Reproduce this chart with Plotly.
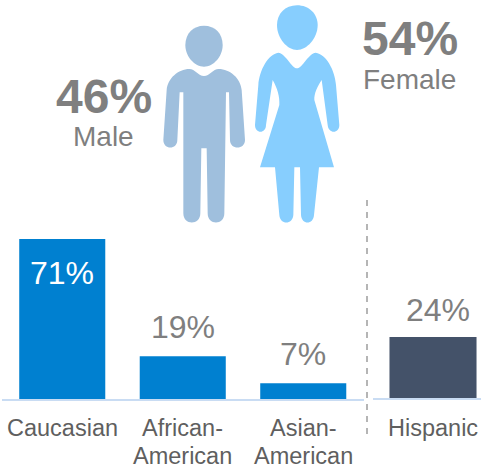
import plotly.graph_objects as go

W, H = 481, 467

race_categories = ["Caucasian", "African-<br>American", "Asian-<br>American"]
race_values = [71, 19, 7]
race_labels = ["71%", "19%", "7%"]
ethnicity_categories = ["Hispanic"]
ethnicity_values = [24]
ethnicity_labels = ["24%"]

GREY = "#7f7f7f"
AXIS = "#c9dcf3"
TICK = "#5f5f5f"
FONT = "Liberation Sans, Arial, sans-serif"


def px(x):
    return x / W


def py(y):
    return 1 - y / H


def zoom_path(cmds):
    # pictogram outline given in pixel space of the figure (zoom coords /3 + offset)
    out = []
    for c in cmds:
        op, pts = c[0], c[1:]
        s = op
        for (a, b) in pts:
            s += f" {px(a / 3 + 140):.5f},{py(b / 3):.5f}"
        out.append(s)
    return " ".join(out) + " Z"


man_head = [
    ("M", (192, 77)), ("C", (225, 77), (248, 100), (248, 135)),
    ("C", (248, 170), (220, 200), (192, 200)), ("C", (164, 200), (136, 170), (136, 135)),
    ("C", (136, 100), (160, 77), (192, 77)),
]
man_body = [
    ("M", (192, 228)), ("C", (175, 228), (165, 207), (148, 207)),
    ("C", (115, 207), (83, 235), (80, 270)), ("L", (70, 420)),
    ("C", (70, 450), (112, 450), (112, 420)), ("L", (119, 277)), ("L", (130, 277)),
    ("L", (130, 640)), ("C", (130, 677), (181, 677), (181, 640)), ("L", (184, 445)),
    ("L", (200, 445)), ("L", (203, 640)), ("C", (203, 677), (253, 677), (253, 640)),
    ("L", (258, 277)), ("L", (267, 277)), ("L", (270, 420)),
    ("C", (270, 450), (315, 450), (315, 420)), ("L", (305, 270)),
    ("C", (302, 235), (270, 207), (236, 207)), ("C", (219, 207), (209, 228), (192, 228)),
]
woman_head = [
    ("M", (471, 16)), ("C", (507, 16), (533, 42), (533, 75)),
    ("C", (533, 115), (500, 150), (471, 150)), ("C", (442, 150), (411, 115), (411, 75)),
    ("C", (411, 42), (435, 16), (471, 16)),
]
woman_body = [
    ("M", (471, 205)), ("C", (455, 205), (435, 158), (415, 158)),
    ("C", (385, 162), (358, 210), (355, 255)), ("L", (345, 375)),
    ("C", (345, 402), (378, 402), (378, 375)), ("L", (398, 240)),
    ("C", (412, 265), (420, 290), (418, 315)), ("L", (360, 502)), ("L", (405, 502)),
    ("L", (418, 645)), ("C", (420, 675), (458, 675), (460, 645)), ("L", (463, 502)),
    ("L", (480, 502)), ("L", (483, 645)), ("C", (485, 675), (520, 675), (522, 645)),
    ("L", (537, 502)), ("L", (582, 502)), ("L", (523, 300)),
    ("C", (522, 280), (533, 258), (545, 240)), ("L", (563, 375)),
    ("C", (565, 402), (598, 402), (598, 375)), ("L", (588, 255)),
    ("C", (585, 210), (558, 162), (527, 158)), ("C", (507, 158), (487, 205), (471, 205)),
]

fig = go.Figure()
fig.add_trace(go.Bar(x=race_categories, y=race_values, width=0.714,
                     marker=dict(color="#0080d0", line_width=0), xaxis="x", yaxis="y",
                     hoverinfo="skip"))
fig.add_trace(go.Bar(x=ethnicity_categories, y=ethnicity_values, width=0.806,
                     marker=dict(color="#445269", line_width=0), xaxis="x2", yaxis="y2",
                     hoverinfo="skip"))

ann = []
for cat, v, t in zip(race_categories, race_values, race_labels):
    inside = v > 50
    ann.append(dict(x=cat, y=v, xref="x", yref="y", text=t, showarrow=False,
                    yanchor="middle", yshift=-34 if inside else 29,
                    font=dict(size=32, family=FONT, color="white" if inside else GREY)))
for cat, v, t in zip(ethnicity_categories, ethnicity_values, ethnicity_labels):
    ann.append(dict(x=cat, y=v, xref="x2", yref="y2", text=t, showarrow=False,
                    yanchor="middle", yshift=27, xshift=5,
                    font=dict(size=32, family=FONT, color=GREY)))

# Category labels: each line placed on its own so the tight line spacing can be kept
for axis, cats in (("x", race_categories), ("x2", ethnicity_categories)):
    for cat in cats:
        for i, line in enumerate(cat.split("<br>")):
            ann.append(dict(x=cat, xref=axis, y=py(428 + 28 * i), yref="paper", text=line,
                            showarrow=False, yanchor="middle", xanchor="center",
                            font=dict(size=23.5, family=FONT, color=TICK)))

for text, cx, cy, size, bold in [("46%", 104, 96, 48, True), ("Male", 103, 136, 28, False),
                                 ("54%", 410, 39, 48, True), ("Female", 409, 80, 28, False)]:
    ann.append(dict(x=px(cx), y=py(cy), xref="paper", yref="paper", showarrow=False,
                    text=f"<b>{text}</b>" if bold else text, yanchor="middle", xanchor="center",
                    font=dict(size=size, family=FONT, color=GREY)))

shapes = [
    dict(type="path", xref="paper", yref="paper", path=zoom_path(man_head), fillcolor="#9fbfdd", line_width=0),
    dict(type="path", xref="paper", yref="paper", path=zoom_path(man_body), fillcolor="#9fbfdd", line_width=0),
    dict(type="path", xref="paper", yref="paper", path=zoom_path(woman_head), fillcolor="#87cefe", line_width=0),
    dict(type="path", xref="paper", yref="paper", path=zoom_path(woman_body), fillcolor="#87cefe", line_width=0),
    dict(type="line", xref="paper", yref="paper", x0=px(367), x1=px(367), y0=py(200), y1=py(437),
         line=dict(color="#b5b5b5", width=2, dash="6px,6px")),
]

fig.update_layout(
    width=W, height=H, margin=dict(l=0, r=0, t=0, b=0), autosize=False,
    paper_bgcolor="white", plot_bgcolor="white", showlegend=False,
    annotations=ann, shapes=shapes,
    xaxis=dict(domain=[px(2), px(363.5)], range=[-0.5, 2.5], type="category", showgrid=False,
               showline=True, linecolor=AXIS, linewidth=2, ticks="", anchor="y",
               showticklabels=False, fixedrange=True),
    yaxis=dict(domain=[1 - 399 / H, 1], range=[0, 177], visible=False, fixedrange=True),
    xaxis2=dict(domain=[px(373), 1], range=[-0.5556, 0.4444], type="category", showgrid=False,
                showline=True, linecolor=AXIS, linewidth=2, ticks="", anchor="y2",
                showticklabels=False, fixedrange=True),
    yaxis2=dict(domain=[1 - 398 / H, 1], range=[0, 156.7], visible=False, fixedrange=True),
)

fig.write_html("out.html", config=dict(displayModeBar=False),
               post_script="document.documentElement.style.overflow='hidden';document.body.style.margin='0';")
